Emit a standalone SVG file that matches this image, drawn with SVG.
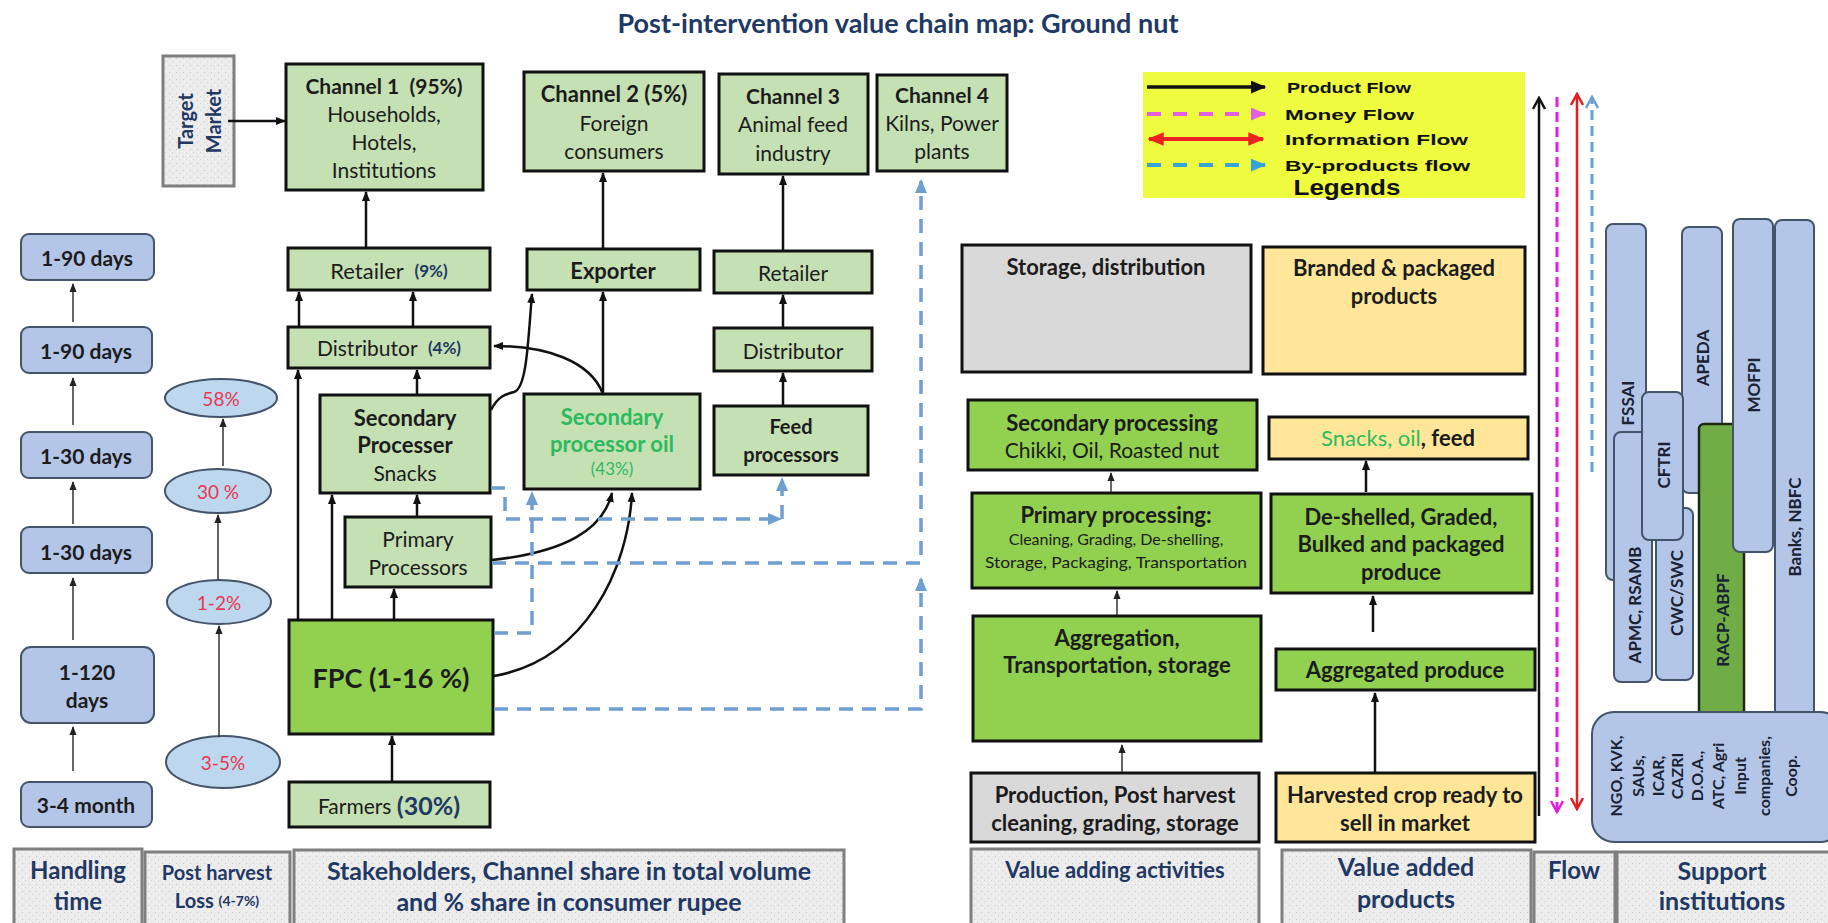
<svg xmlns="http://www.w3.org/2000/svg" width="1828" height="923" viewBox="0 0 1828 923">
<defs>
<style>
text{font-family:Lato,"Open Sans","Liberation Sans",sans-serif;dominant-baseline:central;text-anchor:middle;fill:#1c1c1c}
.lg{fill:#c5e0b3;stroke:#111;stroke-width:3}
.bg{fill:#92d050;stroke:#111;stroke-width:3}
.gy{fill:#d9d9d9;stroke:#111;stroke-width:3}
.or{fill:#ffe699;stroke:#111;stroke-width:3}
.bl{fill:#b4c6e7;stroke:#44546a;stroke-width:2}
.el{fill:#bdd7ee;stroke:#44546a;stroke-width:2}
.hd{fill:url(#grain);stroke:#7f7f7f;stroke-width:3}
.b{font-weight:700}
.nv{fill:#1f3864}
.red{fill:#e8384f;font-size:19px}
.gt{fill:#2dba5e}
.pf{fill:none;stroke:#111;stroke-width:2.5;marker-end:url(#ah)}
.tf{fill:none;stroke:#333;stroke-width:1.5;marker-end:url(#ahs)}
.bp{fill:none;stroke:#6f9fd0;stroke-width:3.5;stroke-dasharray:14 9}
.bpa{marker-end:url(#ahb)}
.lgd{font-family:"Liberation Sans",Arial,sans-serif;font-weight:700;font-size:15px;text-anchor:start;fill:#111}
.lgt{font-family:"Liberation Sans",Arial,sans-serif;font-weight:700;font-size:22px;fill:#111}
.si{font-size:17px;font-weight:700;fill:#1a2233}
.ng{font-size:16px;font-weight:700;fill:#1a2233}
</style>
<pattern id="grain" width="7" height="7" patternUnits="userSpaceOnUse">
<rect width="7" height="7" fill="#ececec"/>
<rect x="1" y="2" width="1" height="1" fill="#c8c8c8"/>
<rect x="4" y="5" width="1" height="1" fill="#d2d2d2"/>
<rect x="5" y="1" width="1" height="1" fill="#f8f8f8"/>
<rect x="2" y="5" width="1" height="1" fill="#fafafa"/>
</pattern>
<marker id="ah" viewBox="0 0 10 8" refX="9" refY="4" markerWidth="10" markerHeight="8" markerUnits="userSpaceOnUse" orient="auto"><path d="M0,0L10,4L0,8z" fill="#111"/></marker>
<marker id="ahs" viewBox="0 0 10 8" refX="9" refY="4" markerWidth="9" markerHeight="8" markerUnits="userSpaceOnUse" orient="auto"><path d="M0,0L10,4L0,8z" fill="#222"/></marker>
<marker id="ahb" viewBox="0 0 14 12" refX="12" refY="6" markerWidth="14" markerHeight="13" markerUnits="userSpaceOnUse" orient="auto"><path d="M0,0L14,6L0,12z" fill="#6f9fd0"/></marker>
<marker id="chev" viewBox="0 0 14 14" refX="12" refY="7" markerWidth="14" markerHeight="14" markerUnits="userSpaceOnUse" orient="auto"><path d="M1,1L12,7L1,13" fill="none" stroke="#111" stroke-width="2.5"/></marker>
<marker id="mag" viewBox="0 0 14 14" refX="12" refY="7" markerWidth="14" markerHeight="14" markerUnits="userSpaceOnUse" orient="auto"><path d="M1,1L12,7L1,13" fill="none" stroke="#e020e0" stroke-width="2.5"/></marker>
<marker id="redh" viewBox="0 0 14 14" refX="12" refY="7" markerWidth="14" markerHeight="14" markerUnits="userSpaceOnUse" orient="auto-start-reverse"><path d="M1,1L12,7L1,13" fill="none" stroke="#e41e1e" stroke-width="2.5"/></marker>
<marker id="bluh" viewBox="0 0 14 14" refX="12" refY="7" markerWidth="14" markerHeight="14" markerUnits="userSpaceOnUse" orient="auto"><path d="M1,1L12,7L1,13" fill="none" stroke="#6a9fcf" stroke-width="2.5"/></marker>
<marker id="lgB" viewBox="0 0 12 10" refX="11" refY="5" markerWidth="16" markerHeight="13" markerUnits="userSpaceOnUse" orient="auto"><path d="M0,0L12,5L0,10z" fill="#111"/></marker>
<marker id="lgM" viewBox="0 0 12 10" refX="11" refY="5" markerWidth="16" markerHeight="13" markerUnits="userSpaceOnUse" orient="auto"><path d="M0,0L12,5L0,10z" fill="#e35ee3"/></marker>
<marker id="lgR" viewBox="0 0 12 10" refX="11" refY="5" markerWidth="16" markerHeight="14" markerUnits="userSpaceOnUse" orient="auto-start-reverse"><path d="M0,0L12,5L0,10z" fill="#ee2222"/></marker>
<marker id="lgC" viewBox="0 0 12 10" refX="11" refY="5" markerWidth="16" markerHeight="13" markerUnits="userSpaceOnUse" orient="auto"><path d="M0,0L12,5L0,10z" fill="#36a4d8"/></marker>
</defs>

<rect width="1828" height="923" fill="#fff"/>

<text x="898" y="22" class="b nv" font-size="27">Post-intervention value chain map: Ground nut</text>

<!-- column headers -->
<g id="hdr-handling"><rect class="hd" x="14" y="849" width="128" height="78"/><text x="78" y="869" class="b nv" font-size="24">Handling</text><text x="78" y="900" class="b nv" font-size="24">time</text></g>
<g id="hdr-loss"><rect class="hd" x="145" y="852" width="145" height="75"/><text x="217" y="872" class="b nv" font-size="20">Post harvest</text><text x="217" y="900" class="b nv" font-size="20">Loss <tspan font-size="14">(4-7%)</tspan></text></g>
<g id="hdr-stake"><rect class="hd" x="294" y="850" width="550" height="77"/><text x="569" y="870" class="b nv" font-size="25">Stakeholders, Channel share in total volume</text><text x="569" y="901" class="b nv" font-size="25">and % share in consumer rupee</text></g>
<g id="hdr-vaa"><rect class="hd" x="971" y="849" width="288" height="78"/><text x="1115" y="869" class="b nv" font-size="22">Value adding activities</text></g>
<g id="hdr-vap"><rect class="hd" x="1282" y="850" width="249" height="77"/><text x="1406" y="866" class="b nv" font-size="25">Value added</text><text x="1406" y="898" class="b nv" font-size="25">products</text></g>
<g id="hdr-flow"><rect class="hd" x="1534" y="852" width="81" height="75"/><text x="1574" y="869" class="b nv" font-size="24">Flow</text></g>
<g id="hdr-support"><rect class="hd" x="1617" y="852" width="215" height="75"/><text x="1722" y="870" class="b nv" font-size="25">Support</text><text x="1722" y="900" class="b nv" font-size="25">institutions</text></g>

<!-- handling time -->
<g id="ht1"><rect class="bl" x="21" y="234" width="133" height="46" rx="8"/><text x="87" y="257" class="b" font-size="21">1-90 days</text></g>
<g id="ht2"><rect class="bl" x="21" y="327" width="131" height="46" rx="8"/><text x="86" y="350" class="b" font-size="21">1-90 days</text></g>
<g id="ht3"><rect class="bl" x="21" y="432" width="131" height="46" rx="8"/><text x="86" y="455" class="b" font-size="21">1-30 days</text></g>
<g id="ht4"><rect class="bl" x="21" y="527" width="131" height="46" rx="8"/><text x="86" y="551" class="b" font-size="21">1-30 days</text></g>
<g id="ht5"><rect class="bl" x="21" y="647" width="133" height="76" rx="10"/><text x="87" y="671" class="b" font-size="21">1-120</text><text x="87" y="699" class="b" font-size="21">days</text></g>
<g id="ht6"><rect class="bl" x="21" y="782" width="131" height="45" rx="8"/><text x="86" y="804" class="b" font-size="21">3-4 month</text></g>

<!-- post harvest loss -->
<g id="pl1"><ellipse class="el" cx="221" cy="398" rx="56" ry="19"/><text x="221" y="398" class="red">58%</text></g>
<g id="pl2"><ellipse class="el" cx="218" cy="491" rx="53" ry="22"/><text x="218" y="491" class="red">30 %</text></g>
<g id="pl3"><ellipse class="el" cx="219" cy="602" rx="52" ry="22"/><text x="219" y="602" class="red">1-2%</text></g>
<g id="pl4"><ellipse class="el" cx="223" cy="762" rx="57" ry="26"/><text x="223" y="762" class="red">3-5%</text></g>

<!-- stakeholders -->
<g id="target"><rect class="hd" x="163" y="56" width="71" height="130"/><text transform="rotate(-90 185 121)" x="185" y="121" class="b nv" font-size="20">Target</text><text transform="rotate(-90 213 121)" x="213" y="121" class="b nv" font-size="20">Market</text></g>
<g id="ch1"><rect class="lg" x="286" y="64" width="197" height="126"/><text x="384" y="85" class="b" font-size="21">Channel 1 &#160;(95%)</text><text x="384" y="113" font-size="21">Households,</text><text x="384" y="141" font-size="21">Hotels,</text><text x="384" y="169" font-size="21">Institutions</text></g>
<g id="ch2"><rect class="lg" x="524" y="72" width="180" height="99"/><text x="614" y="93" class="b" font-size="22">Channel 2 (5%)</text><text x="614" y="122" font-size="21">Foreign</text><text x="614" y="150" font-size="21">consumers</text></g>
<g id="ch3"><rect class="lg" x="719" y="74" width="149" height="100"/><text x="793" y="95" class="b" font-size="21">Channel 3</text><text x="793" y="123" font-size="21">Animal feed</text><text x="793" y="152" font-size="21">industry</text></g>
<g id="ch4"><rect class="lg" x="877" y="75" width="130" height="96"/><text x="942" y="94" class="b" font-size="21">Channel 4</text><text x="942" y="122" font-size="21">Kilns, Power</text><text x="942" y="150" font-size="21">plants</text></g>
<g id="retail1"><rect class="lg" x="288" y="248" width="202" height="42"/><text x="389" y="270" font-size="22">Retailer &#160;<tspan class="b nv" font-size="17">(9%)</tspan></text></g>
<g id="exporter"><rect class="lg" x="527" y="249" width="173" height="41"/><text x="613" y="270" class="b" font-size="22">Exporter</text></g>
<g id="retail3"><rect class="lg" x="714" y="251" width="158" height="42"/><text x="793" y="272" font-size="21">Retailer</text></g>
<g id="dist1"><rect class="lg" x="288" y="327" width="202" height="41"/><text x="389" y="347" font-size="21">Distributor &#160;<tspan class="b nv" font-size="17">(4%)</tspan></text></g>
<g id="dist3"><rect class="lg" x="714" y="328" width="158" height="43"/><text x="793" y="350" font-size="21">Distributor</text></g>
<g id="secproc"><rect class="lg" x="320" y="395" width="170" height="98"/><text x="405" y="417" class="b" font-size="22">Secondary</text><text x="405" y="444" class="b" font-size="22">Processer</text><text x="405" y="472" font-size="21">Snacks</text></g>
<g id="secoil"><rect class="lg" x="524" y="394" width="176" height="95"/><text x="612" y="416" class="b gt" font-size="22">Secondary</text><text x="612" y="443" class="b gt" font-size="22">processor oil</text><text x="612" y="468" class="gt" font-size="17">(43%)</text></g>
<g id="feedproc"><rect class="lg" x="714" y="406" width="154" height="69"/><text x="791" y="426" class="b" font-size="20">Feed</text><text x="791" y="454" class="b" font-size="20">processors</text></g>
<g id="primproc"><rect class="lg" x="345" y="517" width="146" height="70"/><text x="418" y="538" font-size="21">Primary</text><text x="418" y="566" font-size="21">Processors</text></g>
<g id="fpc"><rect class="bg" x="289" y="620" width="204" height="114"/><text x="391" y="677" class="b" font-size="27">FPC (1-16 %)</text></g>
<g id="farmers"><rect class="lg" x="289" y="782" width="201" height="45"/><text x="389" y="805" font-size="21">Farmers <tspan class="b nv" font-size="25">(30%)</tspan></text></g>

<!-- value adding activities -->
<g id="va-storage"><rect class="gy" x="962" y="245" width="289" height="127"/><text x="1106" y="266" class="b" font-size="22">Storage, distribution</text></g>
<g id="va-sec"><rect class="bg" x="968" y="400" width="289" height="70"/><text x="1112" y="422" class="b" font-size="22">Secondary processing</text><text x="1112" y="449" font-size="21">Chikki, Oil, Roasted nut</text></g>
<g id="va-prim"><rect class="bg" x="972" y="493" width="289" height="95"/><text x="1116" y="514" class="b" font-size="22">Primary processing:</text><text x="1116" y="538" font-size="16" fill="#1e3a1e">Cleaning, Grading, De-shelling,</text><text x="1116" y="561" font-size="16" fill="#1e3a1e" textLength="262" lengthAdjust="spacingAndGlyphs">Storage, Packaging, Transportation</text></g>
<g id="va-agg"><rect class="bg" x="973" y="616" width="288" height="125"/><text x="1117" y="637" class="b" font-size="22">Aggregation,</text><text x="1117" y="664" class="b" font-size="22">Transportation, storage</text></g>
<g id="va-prod"><rect class="gy" x="971" y="773" width="288" height="69"/><text x="1115" y="794" class="b" font-size="22">Production, Post harvest</text><text x="1115" y="822" class="b" font-size="22">cleaning, grading, storage</text></g>

<!-- value added products -->
<g id="vp-brand"><rect class="or" x="1263" y="247" width="262" height="127"/><text x="1394" y="267" class="b" font-size="22">Branded &amp; packaged</text><text x="1394" y="295" class="b" font-size="22">products</text></g>
<g id="vp-snacks"><rect class="or" x="1269" y="417" width="259" height="42"/><text x="1398" y="437" font-size="22"><tspan class="gt">Snacks, oil</tspan><tspan class="b">, feed</tspan></text></g>
<g id="vp-deshell"><rect class="bg" x="1271" y="494" width="261" height="99"/><text x="1401" y="516" class="b" font-size="22">De-shelled, Graded,</text><text x="1401" y="543" class="b" font-size="22">Bulked and packaged</text><text x="1401" y="571" class="b" font-size="22">produce</text></g>
<g id="vp-agg"><rect class="bg" x="1276" y="649" width="259" height="41"/><text x="1405" y="669" class="b" font-size="22">Aggregated produce</text></g>
<g id="vp-harv"><rect class="or" x="1276" y="773" width="259" height="69"/><text x="1405" y="794" class="b" font-size="22">Harvested crop ready to</text><text x="1405" y="822" class="b" font-size="22">sell in market</text></g>

<!-- legend -->
<g id="legend">
<rect x="1143" y="72" width="382" height="126" fill="#eefb3e"/>
<line x1="1147" y1="87" x2="1265" y2="87" stroke="#111" stroke-width="3.5" marker-end="url(#lgB)"/>
<line x1="1147" y1="114" x2="1265" y2="114" stroke="#e35ee3" stroke-width="4" stroke-dasharray="14 12" marker-end="url(#lgM)"/>
<line x1="1149" y1="139" x2="1263" y2="139" stroke="#ee2222" stroke-width="4" marker-start="url(#lgR)" marker-end="url(#lgR)"/>
<line x1="1147" y1="165" x2="1265" y2="165" stroke="#36a4d8" stroke-width="4" stroke-dasharray="14 12" marker-end="url(#lgC)"/>
<text x="1287" y="87" class="lgd" textLength="124" lengthAdjust="spacingAndGlyphs">Product Flow</text>
<text x="1285" y="114" class="lgd" textLength="129" lengthAdjust="spacingAndGlyphs">Money Flow</text>
<text x="1285" y="139" class="lgd" textLength="183" lengthAdjust="spacingAndGlyphs">Information Flow</text>
<text x="1285" y="165" class="lgd" textLength="185" lengthAdjust="spacingAndGlyphs">By-products flow</text>
<text x="1347" y="187" class="lgt" textLength="107" lengthAdjust="spacingAndGlyphs">Legends</text>
</g>

<!-- support institutions -->
<g id="sup-fssai"><rect class="bl" x="1606" y="224" width="40" height="356" rx="7"/><text transform="rotate(-90 1627 403)" x="1627" y="403" class="si">FSSAI</text></g>
<g id="sup-apeda"><rect class="bl" x="1682" y="227" width="40" height="266" rx="7"/><text transform="rotate(-90 1702 358)" x="1702" y="358" class="si">APEDA</text></g>
<g id="sup-apmc"><rect class="bl" x="1614" y="432" width="38" height="250" rx="7"/><text transform="rotate(-90 1634 605)" x="1634" y="605" class="si">APMC, RSAMB</text></g>
<g id="sup-cwc"><rect class="bl" x="1656" y="508" width="37" height="172" rx="7"/><text transform="rotate(-90 1676 593)" x="1676" y="593" class="si">CWC/SWC</text></g>
<g id="sup-cftri"><rect class="bl" x="1642" y="392" width="41" height="148" rx="7"/><text transform="rotate(-90 1663 465)" x="1663" y="465" class="si">CFTRI</text></g>
<g id="sup-racp"><rect x="1699" y="424" width="45" height="296" rx="5" fill="#70ad47" stroke="#1d2a12" stroke-width="2.5"/><text transform="rotate(-90 1722 620)" x="1722" y="620" class="si" fill="#10180a">RACP-ABPF</text></g>
<g id="sup-mofpi"><rect class="bl" x="1733" y="219" width="40" height="333" rx="7"/><text transform="rotate(-90 1753 385)" x="1753" y="385" class="si">MOFPI</text></g>
<g id="sup-banks"><rect class="bl" x="1775" y="220" width="39" height="500" rx="7"/><text transform="rotate(-90 1794 527)" x="1794" y="527" class="si">Banks, NBFC</text></g>
<g id="sup-ngo"><rect class="bl" x="1592" y="712" width="250" height="130" rx="22"/>
<text transform="rotate(-90 1615 776)" x="1615" y="776" class="ng">NGO, KVK,</text>
<text transform="rotate(-90 1637 776)" x="1637" y="776" class="ng">SAUs,</text>
<text transform="rotate(-90 1657 776)" x="1657" y="776" class="ng">ICAR,</text>
<text transform="rotate(-90 1676 776)" x="1676" y="776" class="ng">CAZRI</text>
<text transform="rotate(-90 1696 776)" x="1696" y="776" class="ng">D.O.A.,</text>
<text transform="rotate(-90 1717 776)" x="1717" y="776" class="ng">ATC, Agri</text>
<text transform="rotate(-90 1739 776)" x="1739" y="776" class="ng">Input</text>
<text transform="rotate(-90 1763 776)" x="1763" y="776" class="ng">companies,</text>
<text transform="rotate(-90 1790 776)" x="1790" y="776" class="ng">Coop.</text>
</g>

<!-- connectors -->
<g id="connectors">
<!-- handling time and losses -->
<line class="tf" x1="73" y1="322" x2="73" y2="284"/>
<line class="tf" x1="73" y1="425" x2="73" y2="378"/>
<line class="tf" x1="73" y1="524" x2="73" y2="482"/>
<line class="tf" x1="73" y1="640" x2="73" y2="578"/>
<line class="tf" x1="73" y1="771" x2="73" y2="727"/>
<line class="tf" x1="223" y1="466" x2="223" y2="419"/>
<line class="tf" x1="218" y1="580" x2="218" y2="515"/>
<line class="tf" x1="219" y1="737" x2="219" y2="626"/>
<!-- product flow -->
<line class="pf" x1="228" y1="121" x2="285" y2="121"/>
<line class="pf" x1="366" y1="247" x2="366" y2="192"/>
<line class="pf" x1="299" y1="326" x2="299" y2="292"/>
<line class="pf" x1="413" y1="326" x2="413" y2="292"/>
<line class="pf" x1="417" y1="394" x2="417" y2="370"/>
<line class="pf" x1="417" y1="516" x2="417" y2="495"/>
<line class="pf" x1="298" y1="619" x2="298" y2="370"/>
<line class="pf" x1="332" y1="619" x2="332" y2="495"/>
<line class="pf" x1="394" y1="619" x2="394" y2="589"/>
<line class="pf" x1="392" y1="781" x2="392" y2="736"/>
<line class="pf" x1="603" y1="394" x2="603" y2="292"/>
<line class="pf" x1="603" y1="248" x2="603" y2="173"/>
<line class="pf" x1="783" y1="250" x2="783" y2="176"/>
<line class="pf" x1="783" y1="327" x2="783" y2="295"/>
<line class="pf" x1="783" y1="405" x2="783" y2="373"/>
<path class="pf" d="M603,394 C590,360 545,346 494,346"/>
<path class="pf" d="M491,410 C498,396 506,394 514,392 C527,388 528,340 532,294"/>
<path class="pf" d="M492,560 C565,552 603,530 612,493"/>
<path class="pf" d="M494,676 C585,660 628,570 632,493"/>
<!-- by-product flow -->
<path class="bp bpa" d="M491,488 H505 V519 H780"/>
<path class="bp bpa" d="M782,519 V479"/>
<path class="bp bpa" d="M494,633 H532 V493"/>
<path class="bp bpa" d="M492,563 H921 V181"/>
<path class="bp bpa" d="M494,709 H921 V579"/>
<!-- value chain steps -->
<line class="tf" x1="1122" y1="772" x2="1122" y2="745"/>
<line class="tf" x1="1117" y1="615" x2="1117" y2="591"/>
<line class="tf" x1="1111" y1="492" x2="1111" y2="473"/>
<line class="pf" x1="1375" y1="772" x2="1375" y2="693"/>
<line class="pf" x1="1373" y1="632" x2="1373" y2="596"/>
<line class="pf" x1="1366" y1="492" x2="1366" y2="461"/>
<!-- flow column -->
<line x1="1539" y1="816" x2="1539" y2="98" stroke="#111" stroke-width="2.5" marker-end="url(#chev)"/>
<line x1="1557" y1="97" x2="1557" y2="812" stroke="#e020e0" stroke-width="3" stroke-dasharray="10 5" marker-end="url(#mag)"/>
<line x1="1577" y1="94" x2="1577" y2="809" stroke="#e41e1e" stroke-width="2.5" marker-start="url(#redh)" marker-end="url(#redh)"/>
<line x1="1592" y1="472" x2="1592" y2="97" stroke="#6a9fcf" stroke-width="3" stroke-dasharray="10 6" marker-end="url(#bluh)"/>
</g>
</svg>
